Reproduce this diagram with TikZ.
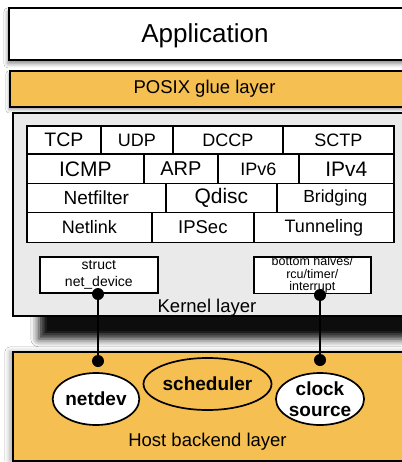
\documentclass[tikz,border=0pt]{standalone}
\usepackage{fontspec}
\setmainfont{Liberation Sans}
\usetikzlibrary{shadows.blur,shapes.geometric}
\definecolor{orng}{RGB}{245,191,82}
\definecolor{kgray}{RGB}{234,234,234}
\newcommand\fs[1]{\fontsize{#1}{#1}\selectfont}
\begin{document}
\begin{tikzpicture}[x=1pt,y=-1pt,
  layer/.style={draw, line width=1.7pt, anchor=north west, inner sep=0pt},
  cell/.style={draw, line width=1.7pt, anchor=north west, inner sep=0pt, fill=white},
  small/.style={draw, line width=1.7pt, anchor=north west, inner sep=0pt, fill=white, align=center},
  dot/.style={circle, fill=black, inner sep=0pt, minimum size=12pt},
  oval/.style={ellipse, draw, line width=1.7pt, inner sep=0pt, align=center, font=\bfseries\fontsize{19}{21}\selectfont},
  lbl/.style={inner sep=0pt},
  conn/.style={line width=1.7pt}]
\useasboundingbox (0,0) rectangle (401,462);
\fill[white] (0,0) rectangle (401,462);
% Application
\node[layer, fill=white, minimum width=396pt, minimum height=52pt,
  blur shadow={shadow xshift=-1pt, shadow yshift=-4pt, shadow blur radius=4pt, shadow opacity=45}] (app) at (8,7) {};
\node[lbl, font=\fs{26}] (apptxt) at (205,36) {Application};
% POSIX
\node[layer, fill=orng, minimum width=396pt, minimum height=36pt,
  blur shadow={shadow xshift=-1pt, shadow yshift=-3pt, shadow blur radius=3pt, shadow opacity=35}] (posix) at (9,70) {};
\node[lbl, font=\fs{18.5}] (posixtxt) at (204.5,89) {POSIX glue layer};
% Kernel
\node[layer, fill=kgray, minimum width=400pt, minimum height=203pt,
  blur shadow={shadow xshift=26pt, shadow yshift=-23pt, shadow blur radius=8pt, shadow opacity=95}] (kernel) at (12,112) {};
\node[lbl, font=\fs{18.5}] (kerneltxt) at (207,308) {Kernel layer};
% Grid
\node[cell, minimum width=74pt,  minimum height=28.3pt, font=\fs{19.5}] (tcp)  at (26,125) {TCP};
\node[cell, minimum width=72pt,  minimum height=28.3pt, font=\fs{18}] (udp)  at (100,125) {UDP};
\node[cell, minimum width=110pt, minimum height=28.3pt, font=\fs{18}] (dccp) at (172,125) {DCCP};
\node[cell, minimum width=111pt, minimum height=28.3pt, font=\fs{18}] (sctp) at (282,125) {SCTP};
\node[cell, minimum width=117pt, minimum height=29.4pt, font=\fs{21}] (icmp) at (26,153.3) {ICMP};
\node[cell, minimum width=74pt,  minimum height=29.4pt, font=\fs{20}] (arp)  at (143,153.3) {ARP};
\node[cell, minimum width=81pt,  minimum height=29.4pt, font=\fs{18}] (ipv6) at (217,153.3) {IPv6};
\node[cell, minimum width=95pt,  minimum height=29.4pt, font=\fs{21}] (ipv4) at (298,153.3) {IPv4};
\node[cell, minimum width=139pt, minimum height=29pt, font=\fs{19}] (netfilter) at (26,182.7) {Netfilter};
\node[cell, minimum width=111pt, minimum height=29pt, font=\fs{21}] (qdisc) at (165,182.7) {Qdisc};
\node[cell, minimum width=117pt, minimum height=29pt, font=\fs{17.5}] (bridging) at (276,182.7) {Bridging};
\node[cell, minimum width=125pt, minimum height=30pt, font=\fs{18}] (netlink) at (26,211.7) {Netlink};
\node[cell, minimum width=102pt, minimum height=30pt, font=\fs{18.5}] (ipsec) at (151,211.7) {IPSec};
\node[cell, minimum width=140pt, minimum height=30pt, font=\fs{18}] (tunneling) at (253,211.7) {Tunneling};
% small boxes
\node[small, minimum width=118pt, minimum height=36pt, font=\fontsize{14}{16.5}\selectfont] (netdevbox) at (39,256) {struct\\net\_device};
\node[small, minimum width=117pt, minimum height=36pt, font=\fontsize{12.5}{12.5}\selectfont] (bhbox) at (253,256) {bottom halves/\\rcu/timer/\\interrupt};
% Host
\node[layer, fill=orng, minimum width=400pt, minimum height=109pt,
  blur shadow={shadow xshift=-3pt, shadow yshift=0pt, shadow blur radius=5pt, shadow opacity=35}] (host) at (12,351) {};
\node[lbl, font=\fs{18.5}] (hosttxt) at (207.5,442) {Host backend layer};
% ellipses
\node[oval, fill=white, minimum width=82pt, minimum height=52pt] (netdev) at (96,399) {netdev};
\node[oval, fill=orng, minimum width=128pt, minimum height=52pt] (sched) at (207.5,384) {scheduler};
\node[oval, fill=white, minimum width=82pt, minimum height=52pt] (clock) at (320,399) {clock\\source};
% dots and connectors
\node[dot] (d1) at (98,294) {};
\node[dot] (d2) at (98,361) {};
\node[dot] (d3) at (320,295) {};
\node[dot] (d4) at (320,360) {};
\draw[conn] (d1) -- (d2);
\draw[conn] (d3) -- (d4);
\end{tikzpicture}
\end{document}
